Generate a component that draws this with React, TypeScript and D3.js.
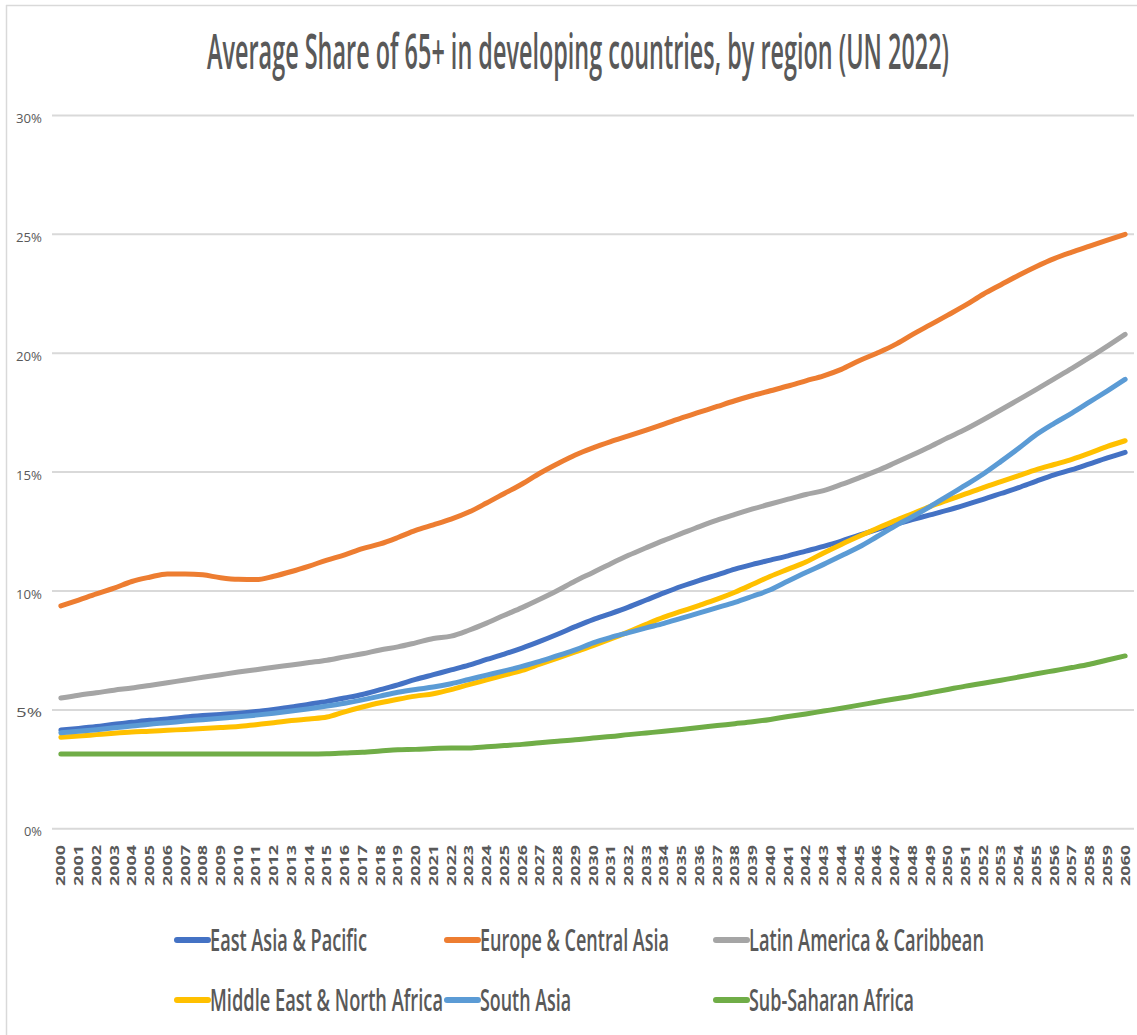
import React from "react";
import * as d3 from "d3";

// Category axis: one point per year, 2000–2060
const years: number[] = d3.range(2000, 2061);

// Share of population aged 65+ (%), by region
const eastAsiaPacific: number[] = [
  4.15, 4.22, 4.30, 4.40, 4.48, 4.56, 4.62, 4.70, 4.76, 4.81,
  4.86, 4.93, 5.02, 5.12, 5.24, 5.36, 5.50, 5.65, 5.85, 6.05,
  6.28, 6.48, 6.68, 6.88, 7.12, 7.35, 7.60, 7.88, 8.18, 8.50,
  8.80, 9.05, 9.32, 9.62, 9.92, 10.20, 10.45, 10.68, 10.92, 11.12,
  11.30, 11.48, 11.68, 11.88, 12.10, 12.35, 12.58, 12.80, 13.00, 13.20,
  13.40, 13.62, 13.85, 14.10, 14.35, 14.62, 14.88, 15.10, 15.35, 15.60,
  15.83,
];

const europeCentralAsia: number[] = [
  9.37, 9.62, 9.88, 10.12, 10.40, 10.58, 10.72, 10.72, 10.68, 10.56,
  10.49, 10.48, 10.62, 10.82, 11.05, 11.30, 11.52, 11.78, 11.98, 12.25,
  12.55, 12.78, 13.02, 13.32, 13.70, 14.10, 14.50, 14.95, 15.35, 15.72,
  16.02, 16.28, 16.52, 16.77, 17.02, 17.28, 17.52, 17.76, 18.00, 18.22,
  18.42, 18.62, 18.84, 19.05, 19.32, 19.68, 20.00, 20.35, 20.78, 21.19,
  21.60, 22.02, 22.48, 22.88, 23.28, 23.65, 23.98, 24.25, 24.50, 24.75,
  25.00,
];

const latinAmericaCaribbean: number[] = [
  5.50, 5.62, 5.72, 5.83, 5.92, 6.03, 6.14, 6.26, 6.37, 6.48,
  6.59, 6.69, 6.79, 6.89, 6.99, 7.09, 7.23, 7.36, 7.52, 7.65,
  7.82, 8.00, 8.10, 8.35, 8.65, 8.98, 9.30, 9.65, 10.02, 10.42,
  10.78, 11.15, 11.50, 11.82, 12.13, 12.42, 12.71, 12.98, 13.22, 13.45,
  13.66, 13.86, 14.06, 14.22, 14.48, 14.76, 15.05, 15.38, 15.72, 16.07,
  16.44, 16.80, 17.20, 17.62, 18.05, 18.48, 18.92, 19.36, 19.82, 20.30,
  20.79,
];

const middleEastNorthAfrica: number[] = [
  3.85, 3.90, 3.96, 4.02, 4.07, 4.10, 4.14, 4.18, 4.22, 4.26,
  4.30, 4.38, 4.46, 4.55, 4.62, 4.70, 4.92, 5.12, 5.30, 5.45,
  5.58, 5.68, 5.85, 6.06, 6.26, 6.46, 6.66, 6.92, 7.18, 7.44,
  7.70, 7.98, 8.28, 8.60, 8.90, 9.15, 9.40, 9.66, 9.95, 10.28,
  10.62, 10.92, 11.22, 11.60, 11.96, 12.30, 12.63, 12.95, 13.25, 13.55,
  13.82, 14.08, 14.35, 14.60, 14.85, 15.10, 15.32, 15.54, 15.80, 16.08,
  16.32,
];

const southAsia: number[] = [
  4.04, 4.10, 4.17, 4.25, 4.32, 4.40, 4.46, 4.53, 4.59, 4.65,
  4.71, 4.78, 4.86, 4.95, 5.05, 5.16, 5.28, 5.42, 5.58, 5.74,
  5.86, 5.96, 6.10, 6.28, 6.46, 6.64, 6.83, 7.04, 7.28, 7.52,
  7.82, 8.05, 8.25, 8.45, 8.64, 8.86, 9.08, 9.30, 9.52, 9.78,
  10.05, 10.42, 10.78, 11.12, 11.48, 11.85, 12.28, 12.72, 13.12, 13.55,
  14.00, 14.45, 14.92, 15.45, 16.00, 16.58, 17.05, 17.48, 17.95, 18.42,
  18.90,
];

const subSaharanAfrica: number[] = [
  3.15, 3.15, 3.15, 3.15, 3.15, 3.15, 3.15, 3.15, 3.15, 3.15,
  3.15, 3.15, 3.15, 3.15, 3.15, 3.16, 3.19, 3.22, 3.27, 3.32,
  3.34, 3.38, 3.40, 3.40, 3.45, 3.50, 3.55, 3.62, 3.68, 3.74,
  3.82, 3.88, 3.96, 4.03, 4.10, 4.18, 4.26, 4.34, 4.42, 4.50,
  4.60, 4.72, 4.83, 4.95, 5.07, 5.20, 5.33, 5.46, 5.58, 5.72,
  5.86, 6.00, 6.12, 6.25, 6.38, 6.52, 6.65, 6.78, 6.92, 7.10,
  7.27,
];

const regionNames: string[] = [
  "East Asia & Pacific",
  "Europe & Central Asia",
  "Latin America & Caribbean",
  "Middle East & North Africa",
  "South Asia",
  "Sub-Saharan Africa",
];

const regionColors: string[] = [
  "#4472C4",
  "#ED7D31",
  "#A5A5A5",
  "#FFC000",
  "#5B9BD5",
  "#70AD47",
];

const yTicks: number[] = [0, 5, 10, 15, 20, 25, 30];

const titleText = "Average Share of 65+ in developing countries, by region (UN 2022)";

const seriesValues: number[][] = [
  eastAsiaPacific,
  europeCentralAsia,
  latinAmericaCaribbean,
  middleEastNorthAfrica,
  southAsia,
  subSaharanAfrica,
];

const WIDTH = 1137;
const HEIGHT = 1035;
const PLOT = { left: 52, right: 1134, top: 115.4, bottom: 828.8 };
const FONT = "'Open Sans', 'Liberation Sans', sans-serif";
const TEXT_GREY = "#595959";

// legend layout: two rows of three slots
const legendSlots = [
  { x: 177, y: 940, textW: 157 },
  { x: 447, y: 940, textW: 189 },
  { x: 716, y: 940, textW: 235 },
  { x: 177, y: 1000, textW: 233 },
  { x: 447, y: 1000, textW: 91 },
  { x: 716, y: 1000, textW: 165 },
];

export default function App() {
  const x = d3
    .scaleBand<number>()
    .domain(years)
    .range([PLOT.left, PLOT.right])
    .padding(0);
  const cx = (yr: number) => (x(yr) as number) + x.bandwidth() / 2;
  const y = d3.scaleLinear().domain([0, 30]).range([PLOT.bottom, PLOT.top]);

  const line = d3
    .line<number>()
    .x((_, i) => cx(years[i]))
    .y((v) => y(v))
    .curve(d3.curveMonotoneX);

  return (
    <svg
      width={WIDTH}
      height={HEIGHT}
      style={{ position: "absolute", left: 0, top: 0, background: "#fff" }}
    >
      {/* chart frame */}
      <rect x={0} y={0} width={WIDTH} height={HEIGHT} fill="#fff" />
      <line x1={6.5} y1={5} x2={6.5} y2={HEIGHT} stroke="#D9D9D9" strokeWidth={1.5} />
      <line x1={6} y1={5.5} x2={WIDTH} y2={5.5} stroke="#D9D9D9" strokeWidth={1.5} />

      {/* title */}
      <text
        x={578}
        y={69}
        textAnchor="middle"
        fontFamily={FONT}
        fontSize={49}
        fontWeight={600}
        fill={TEXT_GREY}
        textLength={742}
        lengthAdjust="spacingAndGlyphs"
      >
        {titleText}
      </text>

      {/* horizontal gridlines and value labels */}
      {yTicks.map((t) => (
        <g key={t}>
          <line
            x1={PLOT.left}
            x2={PLOT.right}
            y1={y(t)}
            y2={y(t)}
            stroke="#D9D9D9"
            strokeWidth={2}
          />
          <text
            x={42}
            y={y(t) + 3}
            dy="0.35em"
            textAnchor="end"
            fontFamily={FONT}
            fontSize={13}
            fill={TEXT_GREY}
            textLength={t === 0 ? 18 : 26}
            lengthAdjust="spacingAndGlyphs"
          >
            {t + "%"}
          </text>
        </g>
      ))}

      {/* year labels, rotated */}
      {years.map((yr) => (
        <text
          key={yr}
          transform={`translate(${cx(yr) + 4.5},845) rotate(-90)`}
          textAnchor="end"
          fontFamily={FONT}
          fontSize={12}
          fontWeight={700}
          fill={TEXT_GREY}
          textLength={41}
          lengthAdjust="spacingAndGlyphs"
        >
          {String(yr)}
        </text>
      ))}

      {/* series lines */}
      {seriesValues.map((vals, i) => (
        <path
          key={regionNames[i]}
          d={line(vals) ?? ""}
          fill="none"
          stroke={regionColors[i]}
          strokeWidth={5}
          strokeLinejoin="round"
          strokeLinecap="round"
        />
      ))}

      {/* legend */}
      {regionNames.map((name, i) => {
        const s = legendSlots[i];
        return (
          <g key={name}>
            <line
              x1={s.x}
              x2={s.x + 31}
              y1={s.y}
              y2={s.y}
              stroke={regionColors[i]}
              strokeWidth={6}
              strokeLinecap="round"
            />
            <text
              x={s.x + 33}
              y={s.y}
              dy="0.36em"
              fontFamily={FONT}
              fontSize={30}
              fontWeight={600}
              fill={TEXT_GREY}
              textLength={s.textW}
              lengthAdjust="spacingAndGlyphs"
            >
              {name}
            </text>
          </g>
        );
      })}
    </svg>
  );
}
